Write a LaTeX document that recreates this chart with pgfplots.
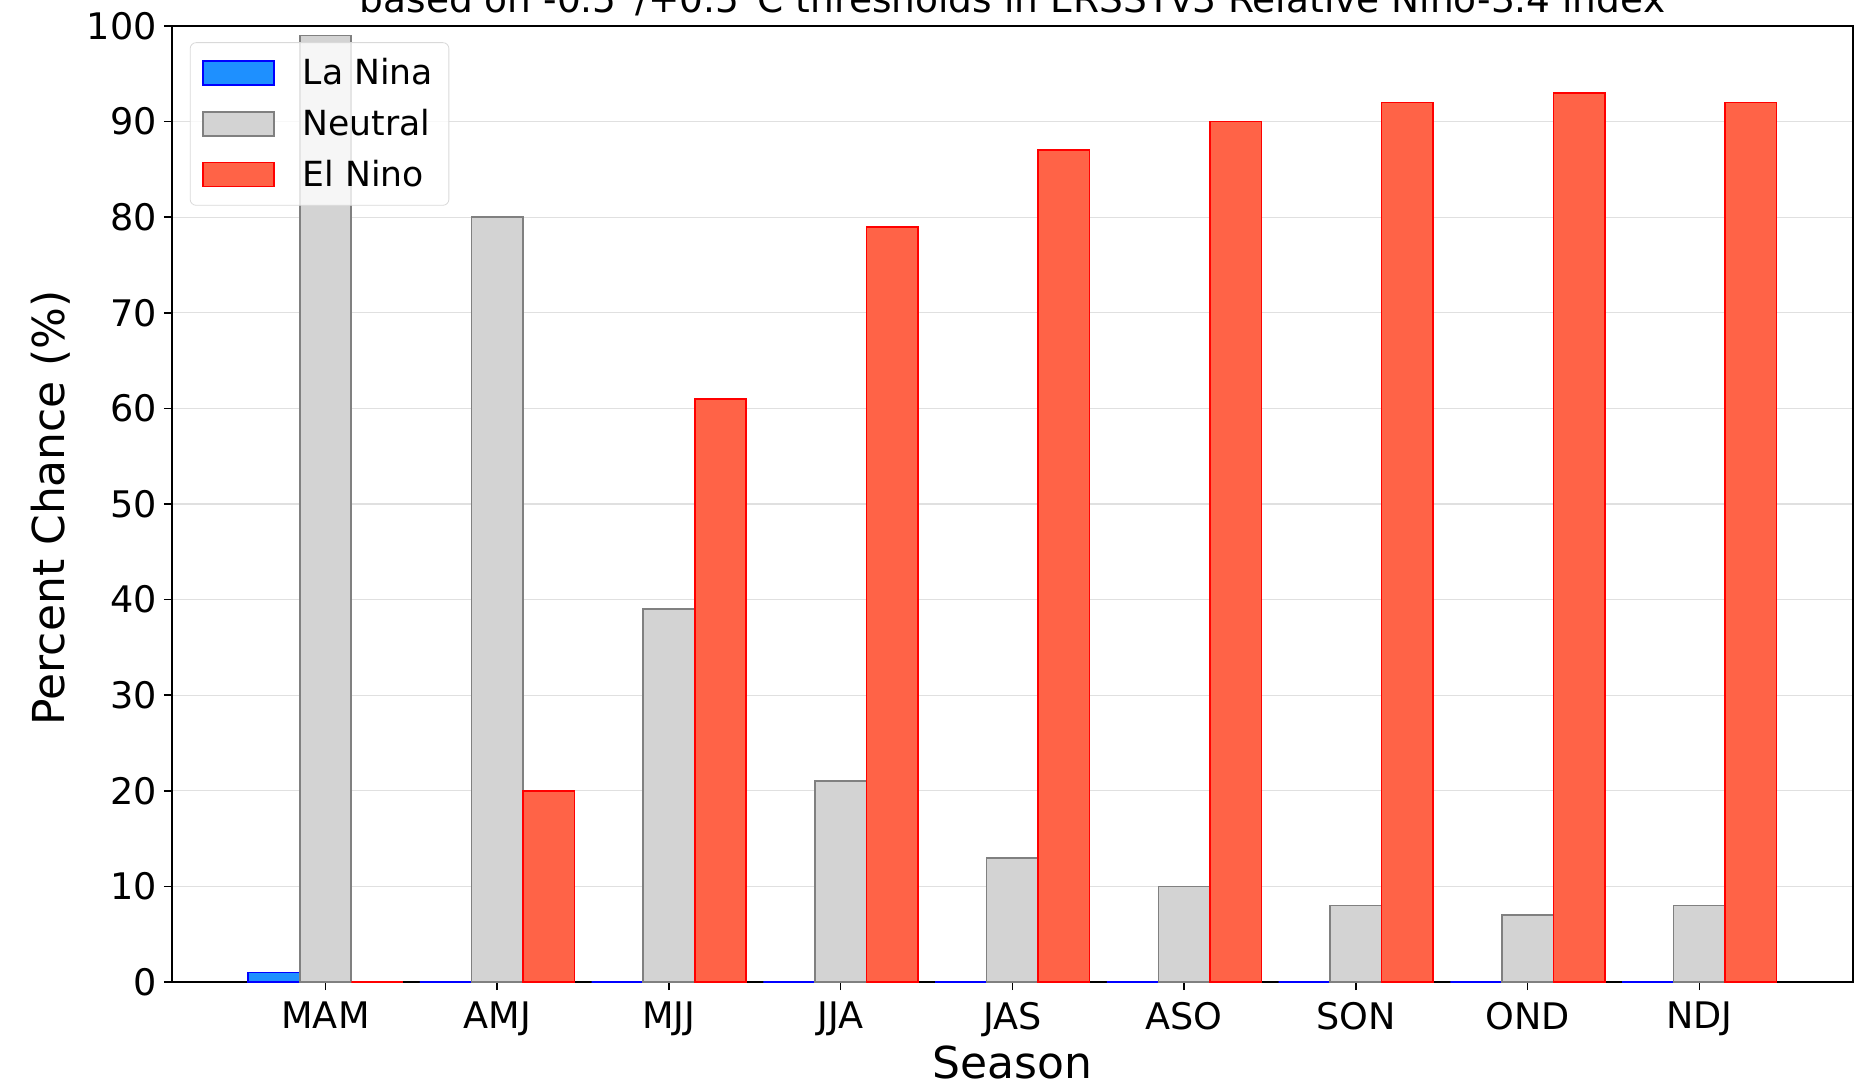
\documentclass[border=0pt]{standalone}
\usepackage{fontspec}
\setmainfont{DejaVu Sans}
\usepackage{pgfplots}
\pgfplotsset{compat=1.18}

\definecolor{ninafill}{RGB}{30,144,255}
\definecolor{ninaedge}{RGB}{0,0,255}
\definecolor{neutfill}{RGB}{211,211,211}
\definecolor{neutedge}{RGB}{128,128,128}
\definecolor{ninofill}{RGB}{255,99,71}
\definecolor{ninoedge}{RGB}{255,0,0}

\begin{document}
\begin{tikzpicture}
\begin{axis}[
  scale only axis, width=840.6pt, height=478pt,
  xmin=-0.895, xmax=8.895, ymin=0, ymax=100,
  xtick={0,...,8},
  xticklabels={MAM,AMJ,MJJ,JJA,JAS,ASO,SON,OND,NDJ},
  ytick={0,10,...,100},
  ymajorgrids, grid style={draw=black!12, line width=0.6pt},
  tick align=outside, major tick length=4pt,
  tick style={black, line width=0.8pt},
  xtick pos=bottom, ytick pos=left,
  axis line style={line width=1pt},
  /pgf/number format/assume math mode=true,
  ticklabel style={font=\fontsize{18.3}{22}\selectfont},
  xticklabel style={yshift=-2.4pt},
  xlabel={Season},
  xlabel style={at={(0.5,0)}, anchor=base, yshift=-48pt,
    font=\fontsize{22}{26}\selectfont},
  legend cell align=left,
  legend image code/.code={\draw[#1, line width=0.8pt, sharp corners, fill opacity=1] (0pt,-6pt) rectangle (35.5pt,6pt);},
  legend style={at={(0.0107,0.983)}, anchor=north west,
    draw=black!15, rounded corners=3pt, fill=white, fill opacity=0.8,
    draw opacity=1, text opacity=1,
    font=\fontsize{17.3}{21}\selectfont, row sep=6.7pt,
    inner xsep=6pt, inner ysep=6pt,
    /tikz/every odd column/.append style={column sep=12pt}},
]
\addplot[ybar, bar width=0.3, bar shift=-0.3, fill=ninafill, draw=ninaedge, line width=0.8pt]
  coordinates {(0,1) (1,0) (2,0) (3,0) (4,0) (5,0) (6,0) (7,0) (8,0)};
\addlegendentry{La Nina}
\addplot[ybar, bar width=0.3, bar shift=0, fill=neutfill, draw=neutedge, line width=0.8pt]
  coordinates {(0,99) (1,80) (2,39) (3,21) (4,13) (5,10) (6,8) (7,7) (8,8)};
\addlegendentry{Neutral}
\addplot[ybar, bar width=0.3, bar shift=0.3, fill=ninofill, draw=ninoedge, line width=0.8pt]
  coordinates {(0,0) (1,20) (2,61) (3,79) (4,87) (5,90) (6,92) (7,93) (8,92)};
\addlegendentry{El Nino}
\end{axis}
% title is cut by the top edge, as in the source picture
\node[anchor=base, font=\fontsize{18.75}{22}\selectfont] at (420.3pt,484.5pt)
  {based on -0.5°/+0.5°C thresholds in ERSSTv3 Relative Nino-3.4 index};
\node[rotate=90, anchor=base, font=\fontsize{22}{26}\selectfont] at (-53.7pt,237pt)
  {Percent Chance (\%)};
\pgfresetboundingbox
\path[use as bounding box] (-85.9pt,-53pt) rectangle (842.6pt,491pt);
\end{tikzpicture}
\end{document}
